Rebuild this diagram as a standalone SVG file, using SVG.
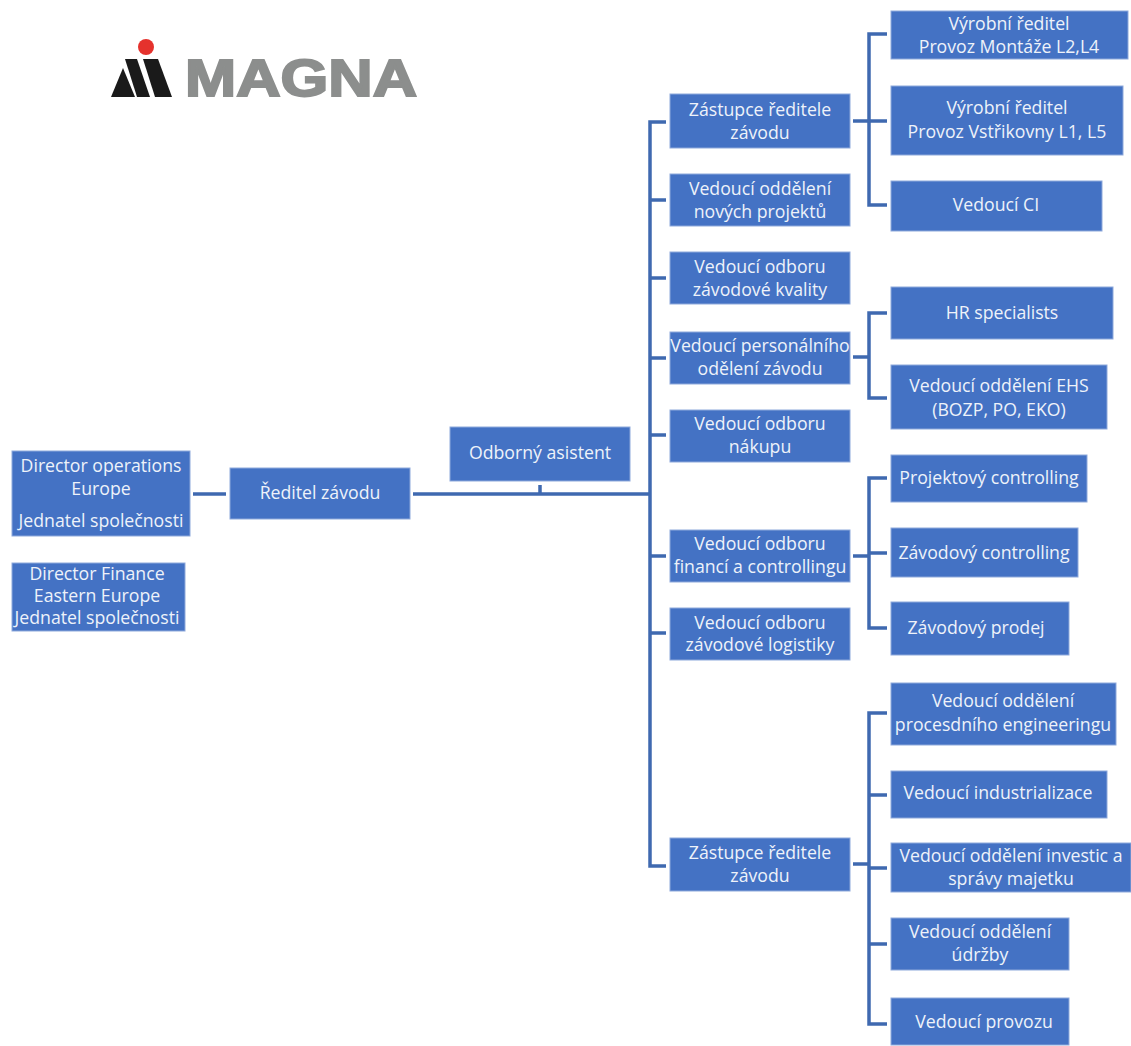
<svg xmlns="http://www.w3.org/2000/svg" width="1131" height="1046" viewBox="0 0 1131 1046">
<style>
.b{fill:#4472c4;stroke:#8ea9db;stroke-width:1}
.t{fill:#eef2fa;font-family:"Open Sans","Noto Sans",sans-serif;font-size:17.7px;text-anchor:middle}
.c{fill:none;stroke:#3f69b0;stroke-width:3.5}
.logo{fill:#8c8e8d;stroke:#8c8e8d;stroke-width:2;font-family:"Liberation Sans",Arial,sans-serif;font-weight:700;font-size:52px}
</style>
<rect width="1131" height="1046" fill="#fff"/>
<g id="logo">
<circle cx="146" cy="47" r="8" fill="#e5322d"/>
<polygon points="111,97 123,68 135,97" fill="#1a1a1a"/>
<polygon points="125,59 137,59 150,97 137,97" fill="#1a1a1a"/>
<polygon points="143,59 158,59 172,97 155,97" fill="#1a1a1a"/>
<text class="logo" x="185" y="96" textLength="232" lengthAdjust="spacingAndGlyphs">MAGNA</text>
</g>
<g id="connectors">
<path class="c" d="M193 494H226"/>
<path class="c" d="M413 494H650M540 485V494" />
<path class="c" d="M666 122H650V866H666M650 200H666M650 278H666M650 358H666M650 435H666M650 556H666M650 633H666"/>
<path class="c" d="M887 34H869V205H887M853 121H887"/>
<path class="c" d="M887 313H869V398H887M853 357H869"/>
<path class="c" d="M887 478H869V628H887M869 553H887M853 556H869"/>
<path class="c" d="M887 713H869V1024H887M869 795H887M869 868H887M869 944H887M853 864H869"/>
</g>
<g id="n1"><rect class="b" x="12" y="451" width="178" height="85"/><text class="t" x="101" y="472">Director operations</text><text class="t" x="101" y="495">Europe</text><text class="t" x="101" y="527">Jednatel společnosti</text></g>
<g id="n2"><rect class="b" x="230" y="468" width="180" height="51"/><text class="t" x="320" y="499">Ředitel závodu</text></g>
<g id="n3"><rect class="b" x="12" y="563" width="173" height="68"/><text class="t" x="97" y="580">Director Finance</text><text class="t" x="97" y="602">Eastern Europe</text><text class="t" x="97" y="624">Jednatel společnosti</text></g>
<g id="n4"><rect class="b" x="450" y="427" width="180" height="54"/><text class="t" x="540" y="459">Odborný asistent</text></g>
<g id="n5"><rect class="b" x="670" y="94" width="180" height="54"/><text class="t" x="760" y="116">Zástupce ředitele</text><text class="t" x="760" y="139">závodu</text></g>
<g id="n6"><rect class="b" x="670" y="174" width="180" height="52"/><text class="t" x="760" y="195">Vedoucí oddělení</text><text class="t" x="760" y="218">nových projektů</text></g>
<g id="n7"><rect class="b" x="670" y="252" width="180" height="52"/><text class="t" x="760" y="273">Vedoucí odboru</text><text class="t" x="760" y="296">závodové kvality</text></g>
<g id="n8"><rect class="b" x="670" y="332" width="180" height="52"/><text class="t" x="760" y="352">Vedoucí personálního</text><text class="t" x="760" y="375">odělení závodu</text></g>
<g id="n9"><rect class="b" x="670" y="410" width="180" height="52"/><text class="t" x="760" y="430">Vedoucí odboru</text><text class="t" x="760" y="453">nákupu</text></g>
<g id="n10"><rect class="b" x="670" y="530" width="180" height="52"/><text class="t" x="760" y="550">Vedoucí odboru</text><text class="t" x="760" y="573">financí a controllingu</text></g>
<g id="n11"><rect class="b" x="670" y="608" width="180" height="52"/><text class="t" x="760" y="629">Vedoucí odboru</text><text class="t" x="760" y="651">závodové logistiky</text></g>
<g id="n12"><rect class="b" x="670" y="838" width="180" height="53"/><text class="t" x="760" y="859">Zástupce ředitele</text><text class="t" x="760" y="882">závodu</text></g>
<g id="n13"><rect class="b" x="891" y="11" width="237" height="48"/><text class="t" x="1009" y="30">Výrobní ředitel</text><text class="t" x="1009" y="53">Provoz Montáže L2,L4</text></g>
<g id="n14"><rect class="b" x="891" y="86" width="232" height="69"/><text class="t" x="1007" y="114">Výrobní ředitel</text><text class="t" x="1007" y="138">Provoz Vstřikovny L1, L5</text></g>
<g id="n15"><rect class="b" x="891" y="181" width="211" height="50"/><text class="t" x="996" y="211">Vedoucí CI</text></g>
<g id="n16"><rect class="b" x="891" y="287" width="222" height="52"/><text class="t" x="1002" y="319">HR specialists</text></g>
<g id="n17"><rect class="b" x="891" y="365" width="216" height="64"/><text class="t" x="999" y="392">Vedoucí oddělení EHS</text><text class="t" x="999" y="416">(BOZP, PO, EKO)</text></g>
<g id="n18"><rect class="b" x="891" y="455" width="196" height="47"/><text class="t" x="989" y="484">Projektový controlling</text></g>
<g id="n19"><rect class="b" x="891" y="528" width="187" height="49"/><text class="t" x="984" y="559">Závodový controlling</text></g>
<g id="n20"><rect class="b" x="891" y="602" width="178" height="53"/><text class="t" x="976" y="634">Závodový prodej</text></g>
<g id="n21"><rect class="b" x="891" y="683" width="225" height="62"/><text class="t" x="1003" y="707">Vedoucí oddělení</text><text class="t" x="1003" y="731">procesdního engineeringu</text></g>
<g id="n22"><rect class="b" x="891" y="771" width="216" height="47"/><text class="t" x="998" y="799">Vedoucí industrializace</text></g>
<g id="n23"><rect class="b" x="891" y="843" width="240" height="49"/><text class="t" x="1011" y="862">Vedoucí oddělení investic a</text><text class="t" x="1011" y="885">správy majetku</text></g>
<g id="n24"><rect class="b" x="891" y="918" width="178" height="52"/><text class="t" x="980" y="938">Vedoucí oddělení</text><text class="t" x="980" y="961">údržby</text></g>
<g id="n25"><rect class="b" x="891" y="998" width="178" height="47"/><text class="t" x="984" y="1028">Vedoucí provozu</text></g>
</svg>
